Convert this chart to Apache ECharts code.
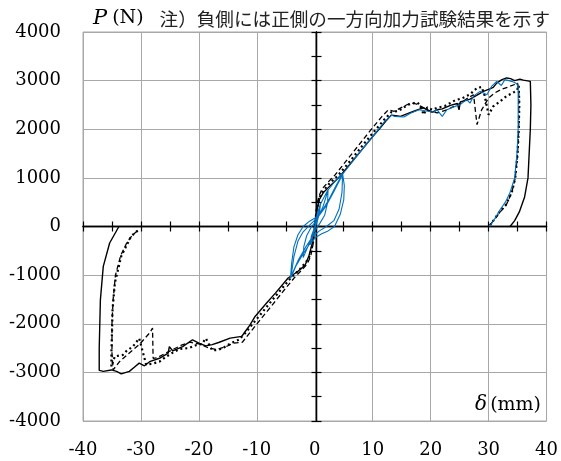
<!DOCTYPE html>
<html lang="ja">
<head>
<meta charset="UTF-8">
<title>荷重変形曲線</title>
<style>
  html, body { margin: 0; padding: 0; background: #fff; }
  #chart { width: 561px; height: 461px; }
</style>
<script src="https://cdn.jsdelivr.net/npm/echarts@6/dist/echarts.min.js"></script>
</head>
<body>
<div id="chart"></div>
<script>
// tick labels
var xTicks = [-40, -30, -20, -10, 0, 10, 20, 30, 40];
var yTicks = [-4000, -3000, -2000, -1000, 0, 1000, 2000, 3000, 4000];
var noteText = '注）負側には正側の一方向加力試験結果を示す';

// [δ (mm), P (N)]  one-way loading, solid
var solidPos = [[0,0],[0.3,300],[0.8,560],[1.5,700],[2.5,820],[4.3,1030],[6,1270],[8,1560],[10,1850],[11.1,2000],[12.2,2160],[13.2,2290],[14,2280],[14.8,2265],[16,2320],[17.1,2370],[18.2,2420],[18.8,2440],[19.5,2390],[20.3,2350],[21.1,2400],[22,2420],[23.4,2490],[24.6,2530],[24.8,2540],[24.9,2400],[25.1,2560],[26.8,2620],[28,2700],[29.1,2780],[30.2,2830],[30.8,2860],[31.4,2950],[32.3,3020],[33.1,3055],[33.8,3040],[34.5,3000],[35.4,3030],[36,3010],[37.2,2985],[37.3,2500],[37.2,2000],[36.8,1000],[36.2,600],[35.3,300],[34.5,120],[33.7,0]];
var solidNeg = [[0,0],[-0.4,-330],[-1,-600],[-1.7,-800],[-3,-930],[-4.6,-1060],[-6.8,-1370],[-8.5,-1600],[-10.3,-1850],[-11.2,-2030],[-12,-2160],[-12.6,-2260],[-14.6,-2295],[-16.6,-2385],[-17.7,-2430],[-18.8,-2455],[-20,-2400],[-21.1,-2330],[-22.8,-2470],[-24.5,-2560],[-25.1,-2470],[-25.3,-2605],[-26.8,-2710],[-28.5,-2780],[-29.4,-2865],[-30.3,-2810],[-31.2,-2900],[-32,-2980],[-33.4,-3030],[-34.2,-2980],[-35.1,-2950],[-36.5,-2980],[-37.2,-2960],[-37.2,-2500],[-37,-1510],[-36.5,-820],[-35.4,-340],[-33.8,0]];

// one-way loading, dotted
var dotPos = [[0,0],[0.3,330],[0.8,600],[1.5,740],[2.5,880],[4,1050],[6,1330],[8,1630],[10,1920],[12,2200],[13.2,2350],[14.5,2380],[16,2500],[17.2,2540],[17.7,2555],[18.2,2480],[18.8,2300],[19.4,2450],[20.3,2400],[21.1,2440],[22.5,2480],[24.2,2595],[25.5,2640],[26.8,2720],[28,2850],[28.8,2870],[29.3,2700],[30,2300],[30.8,2470],[32,2575],[33.1,2680],[34.2,2750],[34.9,2800],[35.2,2900],[35.3,2500],[35.2,2000],[35,1500],[34.6,1000],[34,700],[33,450],[32,320],[31,150],[30.1,0]];
var dotNeg = [[0,0],[-0.3,-320],[-0.8,-590],[-1.5,-730],[-2.5,-870],[-4,-1040],[-6,-1320],[-8,-1610],[-10,-1900],[-12,-2190],[-13.1,-2330],[-14.5,-2400],[-15.4,-2470],[-16.6,-2535],[-17.7,-2550],[-18.8,-2300],[-19.5,-2420],[-20.5,-2440],[-21.7,-2500],[-23.4,-2520],[-24.6,-2600],[-25.8,-2690],[-26.8,-2780],[-28,-2820],[-29.1,-2840],[-30.3,-2300],[-31.4,-2470],[-32.5,-2560],[-33.1,-2640],[-34.5,-2670],[-35.1,-2880],[-35.1,-2600],[-35,-2200],[-34.9,-1710],[-34.5,-1160],[-33.4,-610],[-31.7,-200],[-30.3,-60]];

// one-way loading, dashed
var dashPos = [[0,0],[0.3,380],[0.7,620],[1.3,780],[2.2,900],[3.5,1060],[5.5,1360],[7.5,1660],[9.5,1960],[11.5,2250],[12.7,2400],[13.7,2370],[15,2450],[16.5,2540],[17.5,2520],[18.5,2460],[19.8,2380],[21.1,2335],[22.8,2400],[24,2470],[25.5,2560],[26.5,2650],[27.4,2710],[28,2095],[28.8,2400],[30,2645],[31.1,2750],[32.2,2820],[33.4,2870],[34.5,2920],[35,2950],[35.2,2800],[35.2,2000],[35,1500],[34.6,1000],[34,700],[33,430],[32,300],[31,140],[30,0]];
var dashNeg = [[0,0],[-0.3,-370],[-0.7,-610],[-1.3,-770],[-2.2,-890],[-3.5,-1050],[-5.5,-1340],[-7.5,-1640],[-9.5,-1930],[-11.5,-2230],[-12.5,-2380],[-14,-2400],[-15.5,-2480],[-17,-2530],[-18.3,-2500],[-19.8,-2420],[-21.5,-2380],[-23,-2440],[-24.5,-2530],[-26,-2620],[-27.2,-2700],[-27.9,-2710],[-28,-2090],[-28.5,-2190],[-30.3,-2430],[-32,-2600],[-33.7,-2780],[-34.8,-2950],[-35,-2600],[-35,-2000],[-34.8,-1500],[-34.4,-1000],[-33.5,-600],[-32.5,-350],[-31.5,-180],[-30.3,-60]];

// cyclic loading, blue
var blueCyclic = [[0,0],[0.4,250],[1.0,480],[0.8,260],[0.3,60],[-0.2,-120],[-0.8,-380],[-0.6,-200],[-0.1,-40],[0.5,160],[1.0,470],
  [1.7,620],[2.3,760],[2.2,480],[1.7,230],[0.9,70],[0,-90],[-1,-360],[-2,-640],[-1.9,-420],[-1.4,-190],[-0.6,-10],[0.4,140],[1.4,400],[2.3,750],
  [3.5,930],[4.8,1090],[5.1,840],[5.0,550],[4.4,250],[3.4,0],[2.3,-90],[1.2,-150],[0.2,-220],[-1,-380],[-2,-560],[-3.2,-800],[-4.2,-1070],[-4.0,-760],[-3.6,-420],[-2.9,-170],[-2.0,0],[-0.9,110],[0.4,200],[1.5,370],[2.5,570],[3.5,800],[4.8,1090],
  [4.7,700],[4.2,360],[3.3,120],[2,0],[0.8,-90],[-0.4,-210],[-1.6,-430],[-2.8,-680],[-4.1,-1030],[-3.6,-620],[-2.9,-300],[-2,-110],[-0.8,40],[0.6,200],[2,430],[3.3,720],[4.9,1090],
  [6,1260],[8,1560],[10,1850],[12,2150],[13.3,2290],[13.7,2265],[15.4,2253],[16.5,2330],[18,2400],[19.5,2370],[20.5,2350],[21.1,2400],[22,2265],[22.8,2400],[24.2,2470],[25.1,2505],[26.2,2610],[26.8,2540],[27.4,2680],[28.5,2780],[29.7,2710],[30.5,2880],[31.4,2985],[32.2,2900],[32.8,3020],[34,2985],[34.8,2940],[35.1,2880],[35.1,2400],[35.1,2000],[34.9,1500],[34.5,1000],[33.7,700],[32.9,500],[32,350],[31,150],[30.2,0]];

var chart = echarts.init(document.getElementById('chart'));

var serif = 'DejaVu Serif';
var gridGray = '#a8a8a8';
var grid = {left: 83, right: 11, top: 32, bottom: 40};
var plotW = 561 - grid.left - grid.right;
var plotH = 461 - grid.top - grid.bottom;
function plain(v) { return String(v); }
function blank() { return ''; }

// black axes through the origin with crossing ticks:
// one copy with ticks inside, one with ticks outside, shifted to the middle of the plot
function zeroX(inside) {
    return {
        type: 'value', position: 'bottom', offset: -plotH / 2,
        min: xTicks[0], max: xTicks[xTicks.length - 1], interval: (xTicks[1] - xTicks[0]) / 2,
        axisLine: {show: true, onZero: false, lineStyle: {color: '#000', width: 1.3}},
        axisTick: {show: true, inside: inside, length: 5, lineStyle: {color: '#000', width: 1.2}},
        axisLabel: {show: true, formatter: blank},
        splitLine: {show: false}
    };
}
function zeroY(inside) {
    return {
        type: 'value', position: 'left', offset: -plotW / 2,
        min: yTicks[0], max: yTicks[yTicks.length - 1], interval: (yTicks[1] - yTicks[0]) / 2,
        axisLine: {show: true, onZero: false, lineStyle: {color: '#000', width: 1.3}},
        axisTick: {show: true, inside: inside, length: 5, lineStyle: {color: '#000', width: 1.2}},
        axisLabel: {show: true, formatter: blank},
        splitLine: {show: false}
    };
}

function line(data, color, width, type) {
    return {
        type: 'line', xAxisIndex: 0, yAxisIndex: 0,
        data: data, showSymbol: false, symbol: 'none',
        lineStyle: {color: color, width: width, type: type},
        silent: true
    };
}

var option = {
    animation: false,
    backgroundColor: '#fff',
    title: [{
        left: 88, top: 3,
        text: '{p|P} {n|(N)}{j|' + noteText + '}',
        textStyle: {
            fontWeight: 'normal',
            rich: {
                p: {fontFamily: serif, fontStyle: 'italic', fontWeight: 'normal', fontSize: 21, color: '#000'},
                n: {fontFamily: serif, fontWeight: 'normal', fontSize: 19, color: '#000'},
                j: {fontFamily: 'Noto Sans CJK JP', fontWeight: 'normal', fontSize: 18.6, color: '#222', padding: [0, 0, 0, 16]}
            }
        }
    }, {
        right: 15, top: 390,
        text: '{d|δ}{m|(mm)}',
        textStyle: {
            fontWeight: 'normal',
            rich: {
                d: {fontFamily: serif, fontStyle: 'italic', fontWeight: 'normal', fontSize: 20, color: '#000', padding: [0, 3, 0, 0]},
                m: {fontFamily: serif, fontWeight: 'normal', fontSize: 19, color: '#000'}
            }
        }
    }],
    grid: {left: grid.left, right: grid.right, top: grid.top, bottom: grid.bottom, show: true, borderColor: gridGray, borderWidth: 1},
    xAxis: [{
        type: 'value', position: 'bottom',
        min: xTicks[0], max: xTicks[xTicks.length - 1], interval: xTicks[1] - xTicks[0],
        axisLine: {show: false, onZero: false},
        axisTick: {show: false},
        axisLabel: {color: '#000', fontFamily: serif, fontSize: 18, margin: 20, formatter: plain},
        splitLine: {lineStyle: {color: gridGray, width: 1}}
    }, zeroX(true), zeroX(false)],
    yAxis: [{
        type: 'value', position: 'left',
        min: yTicks[0], max: yTicks[yTicks.length - 1], interval: yTicks[1] - yTicks[0],
        axisLine: {show: false, onZero: false},
        axisTick: {show: false},
        axisLabel: {color: '#000', fontFamily: serif, fontSize: 18, margin: 22, formatter: plain},
        splitLine: {lineStyle: {color: gridGray, width: 1}}
    }, zeroY(true), zeroY(false)],
    series: [
        line(solidPos, '#000', 1.4, 'solid'),
        line(solidNeg, '#000', 1.4, 'solid'),
        line(dotPos, '#000', 2.2, [2, 3]),
        line(dotNeg, '#000', 2.2, [2, 3]),
        line(dashPos, '#000', 1.3, [5, 3]),
        line(dashNeg, '#000', 1.3, [5, 3]),
        line(blueCyclic, '#0070c0', 1.1, 'solid')
    ]
};
chart.setOption(option);
</script>
</body>
</html>
